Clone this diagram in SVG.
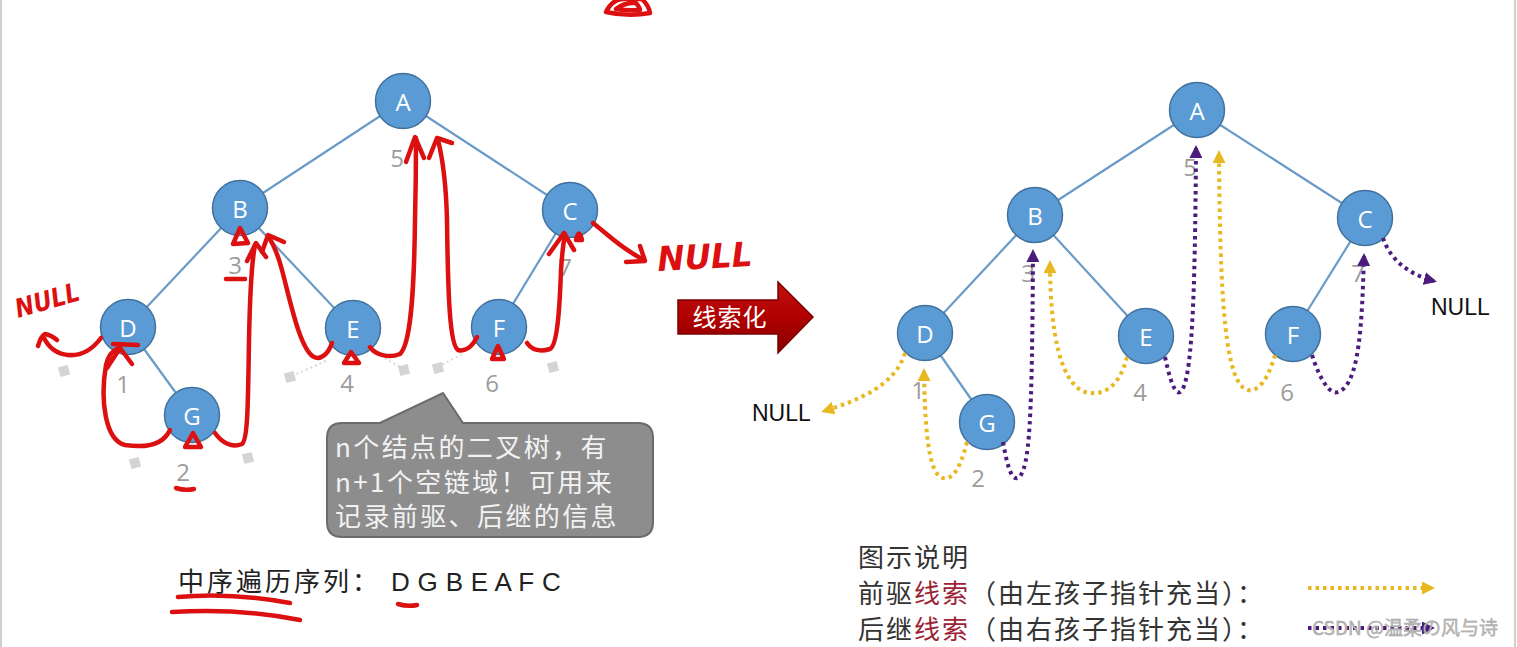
<svg xmlns="http://www.w3.org/2000/svg" width="1517" height="647" viewBox="0 0 1517 647">
<style>
.node circle{fill:#5b9bd5;stroke:#41719c;stroke-width:1.5}
.node text{font-family:"Open Sans","Liberation Sans",sans-serif;font-size:24px;fill:#fff;text-anchor:middle;dominant-baseline:central}
.edge{stroke:#6a9bc8;stroke-width:2.2}
.num{font-family:"Open Sans","Liberation Sans",sans-serif;font-size:24px;fill:#9c9c9c;text-anchor:middle}
.red{stroke:#dc1010;stroke-width:4.5;fill:none;stroke-linecap:round;stroke-linejoin:round}
.yel{stroke:#e8b820;stroke-width:4;stroke-dasharray:3.5 4;fill:none}
.pur{stroke:#4c1c7c;stroke-width:4;stroke-dasharray:3.5 4;fill:none}
.sq{fill:#d4d4d4}
.faint{stroke:#d8d8d8;stroke-width:2;stroke-dasharray:2 3;fill:none}
.cjk{font-family:"Noto Sans CJK SC","Liberation Sans",sans-serif}
.hand{font-family:"DejaVu Sans","Liberation Sans",sans-serif;font-style:italic;font-weight:bold;fill:#dc1010}
</style>
<defs>
<marker id="ay" markerUnits="userSpaceOnUse" markerWidth="15" markerHeight="13" refX="10" refY="6.5" orient="auto"><path d="M0,0 L13,6.5 L0,13 Z" fill="#e8b820"/></marker>
<marker id="ap" markerUnits="userSpaceOnUse" markerWidth="15" markerHeight="13" refX="10" refY="6.5" orient="auto"><path d="M0,0 L13,6.5 L0,13 Z" fill="#4c1c7c"/></marker>
<linearGradient id="rg" x1="0" y1="0" x2="0" y2="1"><stop offset="0" stop-color="#c01010"/><stop offset="0.5" stop-color="#b00000"/><stop offset="1" stop-color="#8a0000"/></linearGradient>
</defs>
<rect width="1517" height="647" fill="#fff"/>
<line x1="1" y1="0" x2="1" y2="647" stroke="#cfcfcf" stroke-width="2"/>
<line x1="1515" y1="0" x2="1515" y2="647" stroke="#cfcfcf" stroke-width="2"/>

<!-- left tree connectors -->
<g id="left-connectors">
<line class="edge" x1="403" y1="101" x2="240" y2="208"/>
<line class="edge" x1="403" y1="101" x2="570" y2="210"/>
<line class="edge" x1="240" y1="208" x2="128" y2="327"/>
<line class="edge" x1="240" y1="208" x2="353" y2="328"/>
<line class="edge" x1="570" y1="210" x2="499" y2="327"/>
<line class="edge" x1="128" y1="327" x2="192" y2="415"/>
<path class="faint" d="M292,376 L328,360"/>
<path class="faint" d="M438,367 L462,354"/>
<path class="faint" d="M404,369 L382,357"/>
</g>
<g id="left-nulls">
<rect class="sq" x="59" y="366" width="10" height="10" transform="rotate(-15 64 371)"/>
<rect class="sq" x="130" y="458" width="10" height="10" transform="rotate(-15 135 463)"/>
<rect class="sq" x="243" y="453" width="10" height="10" transform="rotate(-15 248 458)"/>
<rect class="sq" x="285" y="372" width="10" height="10" transform="rotate(-15 290 377)"/>
<rect class="sq" x="399" y="365" width="10" height="10" transform="rotate(-15 404 370)"/>
<rect class="sq" x="433" y="363" width="10" height="10" transform="rotate(-15 438 368)"/>
<rect class="sq" x="548" y="362" width="10" height="10" transform="rotate(-15 553 367)"/>
</g>
<g id="lA" class="node"><circle cx="403" cy="101" r="27.5"/><text x="403" y="101">A</text></g>
<g id="lB" class="node"><circle cx="240" cy="208" r="27.5"/><text x="240" y="208">B</text></g>
<g id="lC" class="node"><circle cx="570" cy="210" r="27.5"/><text x="570" y="210">C</text></g>
<g id="lD" class="node"><circle cx="128" cy="327" r="27.5"/><text x="128" y="327">D</text></g>
<g id="lE" class="node"><circle cx="353" cy="328" r="27.5"/><text x="353" y="328">E</text></g>
<g id="lF" class="node"><circle cx="499" cy="327" r="27.5"/><text x="499" y="327">F</text></g>
<g id="lG" class="node"><circle cx="192" cy="415" r="27.5"/><text x="192" y="415">G</text></g>
<g id="left-nums">
<text class="num" x="397" y="167">5</text>
<text class="num" x="235" y="274">3</text>
<text class="num" x="565" y="276">7</text>
<text class="num" x="123" y="393">1</text>
<text class="num" x="347" y="392">4</text>
<text class="num" x="492" y="392">6</text>
<text class="num" x="183" y="481">2</text>
</g>

<!-- red handwriting -->
<g id="red-marks">
<path class="red" d="M606,12 Q612,0 622,-1 L642,-1 Q649,6 650,13 Q628,17 606,12 Z"/>
<path class="red" d="M616,9 Q625,2 636,3 Q640,8 640,10 Q628,11 616,9"/>
<path class="red" d="M101,338 C92,350 80,356 68,355 C58,354 50,350 44,338"/>
<path class="red" d="M38,346 Q41,336 45,334 Q51,335 57,340"/>
<path class="red" d="M113,344 L138,345" stroke-width="6"/>
<path class="red" d="M170,430 C163,445 145,448 125,445 C105,440 100,400 106,365 C108,355 113,350 120,347"/>
<path class="red" d="M107,368 L120,348 L132,364"/>
<path class="red" d="M185,447 L193,433 L201,447 Z"/>
<path class="red" d="M215,433 C222,443 232,448 242,444 C248,440 248,400 249,340 C250,290 252,260 255,245"/>
<path class="red" d="M247,261 L256,243 L266,257"/>
<path class="red" d="M233,244 L240,228 L248,243 Z"/>
<path class="red" d="M332,343 C328,355 320,360 314,357 C300,350 290,300 282,270 C278,255 274,245 268,236"/>
<path class="red" d="M262,252 L268,235 L284,242"/>
<path class="red" d="M344,363 L351,352 L359,363 Z"/>
<path class="red" d="M370,347 C376,356 390,358 400,354 C410,345 414,300 415,220 C416,180 416,155 416,138"/>
<path class="red" d="M406,162 L415,137 L424,158"/>
<path class="red" d="M477,337 C472,347 465,352 458,350 C450,345 448,300 447,220 C446,180 443,160 438,140"/>
<path class="red" d="M429,158 L437,138 L452,143"/>
<path class="red" d="M492,359 L498,346 L504,359 Z"/>
<path class="red" d="M527,343 C532,350 540,352 550,349 C558,345 560,300 561,270 C562,255 563,245 565,234"/>
<path class="red" d="M549,254 L564,233 L574,250"/>
<path class="red" d="M576,240 Q579,227 582,240 Z" stroke-width="3"/>
<path class="red" d="M593,223 C605,232 620,248 644,260"/>
<path class="red" d="M626,262 L645,261 L640,246"/>
<path class="red" d="M226,279 L245,279"/>
<path class="red" d="M176,488 Q185,491 194,489"/>
<path class="red" d="M178,597 Q230,592 290,603"/>
<path class="red" d="M172,612 Q240,608 300,620"/>
<path class="red" d="M398,604 Q408,607 417,605"/>
<text class="hand" x="18" y="318" font-size="26" textLength="66" lengthAdjust="spacingAndGlyphs" transform="rotate(-16 18 318)">NULL</text>
<text class="hand" x="658" y="271" font-size="34" textLength="95" lengthAdjust="spacingAndGlyphs" transform="rotate(-3 658 271)">NULL</text>
</g>

<!-- callout -->
<g id="callout">
<path d="M342,423 L380,423 L443,393 L463,423 L638,423 Q653,423 653,438 L653,522 Q653,537 638,537 L342,537 Q327,537 327,522 L327,438 Q327,423 342,423 Z" fill="#8d8d8d" stroke="#6b6b6b" stroke-width="2"/>
<g class="cjk" font-size="26" fill="#f2f2f2" letter-spacing="2.4">
<text x="335" y="457">n个结点的二叉树，有</text>
<text x="335" y="492">n+1个空链域！可用来</text>
<text x="335" y="526">记录前驱、后继的信息</text>
</g>
</g>

<g id="inorder" class="cjk" font-size="26" fill="#222">
<text x="178" y="591" letter-spacing="3">中序遍历序列：<tspan dx="10" font-family="Liberation Sans, sans-serif" letter-spacing="0.3">D G B E A F C</tspan></text>
</g>

<!-- thread arrow -->
<g id="thread-arrow">
<path d="M678,300 L778,300 L778,282 L813,317 L778,353 L778,334 L678,334 Z" fill="url(#rg)" stroke="#7a0000" stroke-width="1.5"/>
<text class="cjk" x="730" y="326" font-size="24" fill="#fff" text-anchor="middle" letter-spacing="1">线索化</text>
</g>

<!-- right tree -->
<g id="right-connectors">
<line class="edge" x1="1197" y1="110" x2="1035" y2="215"/>
<line class="edge" x1="1197" y1="110" x2="1365" y2="218"/>
<line class="edge" x1="1035" y1="215" x2="925" y2="333"/>
<line class="edge" x1="1035" y1="215" x2="1146" y2="336"/>
<line class="edge" x1="1365" y1="218" x2="1293" y2="334"/>
<line class="edge" x1="925" y1="333" x2="987" y2="422"/>
</g>
<g id="rA" class="node"><circle cx="1197" cy="110" r="27.5"/><text x="1197" y="110">A</text></g>
<g id="rB" class="node"><circle cx="1035" cy="215" r="27.5"/><text x="1035" y="215">B</text></g>
<g id="rC" class="node"><circle cx="1365" cy="218" r="27.5"/><text x="1365" y="218">C</text></g>
<g id="rD" class="node"><circle cx="925" cy="333" r="27.5"/><text x="925" y="333">D</text></g>
<g id="rE" class="node"><circle cx="1146" cy="336" r="27.5"/><text x="1146" y="336">E</text></g>
<g id="rF" class="node"><circle cx="1293" cy="334" r="27.5"/><text x="1293" y="334">F</text></g>
<g id="rG" class="node"><circle cx="987" cy="422" r="27.5"/><text x="987" y="422">G</text></g>
<g id="right-nums">
<text class="num" x="1190" y="176">5</text>
<text class="num" x="1028" y="282">3</text>
<text class="num" x="1358" y="282">7</text>
<text class="num" x="918" y="399">1</text>
<text class="num" x="1140" y="401">4</text>
<text class="num" x="1287" y="401">6</text>
<text class="num" x="978" y="487">2</text>
</g>
<g id="threads">
<path class="yel" d="M905,353 C895,385 860,400 824,411" marker-end="url(#ay)"/>
<path class="yel" d="M967,442 C960,470 952,480 943,478 C930,475 925,440 924,371" marker-end="url(#ay)"/>
<path class="pur" d="M1003,442 C1008,470 1012,480 1018,478 C1030,470 1032,420 1033,252" marker-end="url(#ap)"/>
<path class="yel" d="M1127,357 C1120,385 1105,395 1090,393 C1060,390 1050,330 1050,263" marker-end="url(#ay)"/>
<path class="pur" d="M1165,357 C1170,380 1175,395 1180,392 C1192,385 1195,300 1196,148" marker-end="url(#ap)"/>
<path class="yel" d="M1275,355 C1268,380 1258,392 1248,390 C1225,385 1220,300 1219,153" marker-end="url(#ay)"/>
<path class="pur" d="M1312,355 C1320,380 1330,395 1338,392 C1360,385 1362,320 1364,256" marker-end="url(#ap)"/>
<path class="pur" d="M1383,238 C1390,260 1410,275 1434,281" marker-end="url(#ap)"/>
</g>
<g font-family="Liberation Sans, sans-serif" font-size="23" fill="#111">
<text x="752" y="421">NULL</text>
<text x="1431" y="315">NULL</text>
</g>

<!-- legend -->
<g id="legend" class="cjk" font-size="26" fill="#333" letter-spacing="2">
<text x="858" y="567">图示说明</text>
<text x="858" y="603">前驱<tspan fill="#9b2335">线索</tspan>（由左孩子指针充当）：</text>
<text x="858" y="639">后继<tspan fill="#9b2335">线索</tspan>（由右孩子指针充当）：</text>
</g>
<path class="yel" d="M1308,588 L1432,588" marker-end="url(#ay)"/>
<path class="pur" d="M1308,628 L1432,628" marker-end="url(#ap)"/>
<text class="cjk" x="1312" y="635" font-size="19" fill="#bdbdbd" stroke="#9a9a9a" stroke-width="0.4">CSDN @温柔の风与诗</text>
</svg>
